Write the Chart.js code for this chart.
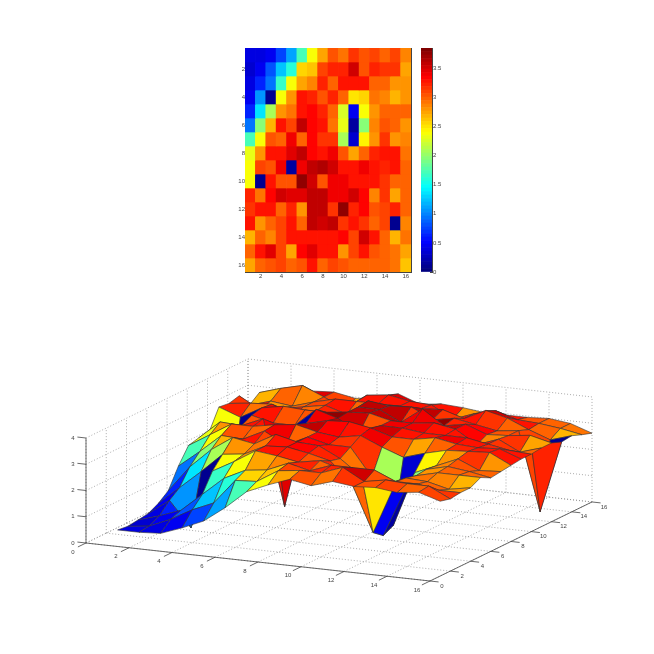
<!DOCTYPE html>
<html>
<head>
<meta charset="utf-8">
<style>
  html, body { margin: 0; padding: 0; background: #fff; }
  canvas { position: absolute; left: 0; filter: blur(0.5px); }
</style>
<script src="https://cdn.jsdelivr.net/npm/chart.js@4"></script>
</head>
<body>
<canvas id="heat" width="654" height="300" style="top:0"></canvas>
<canvas id="bar" width="654" height="300" style="top:0"></canvas>
<canvas id="surface" width="654" height="354" style="top:300px"></canvas>
<script>
const row1  = [0.40, 0.40, 0.45, 0.75, 1.10, 1.70, 2.40, 2.75, 3.05, 2.90, 3.15, 3.05, 3.10, 3.00, 3.10, 2.85];
const row2  = [0.35, 0.45, 0.80, 1.25, 1.60, 2.55, 2.60, 3.10, 3.20, 3.20, 3.50, 3.05, 3.20, 3.15, 3.15, 2.75];
const row3  = [0.40, 0.65, 0.95, 1.65, 2.35, 2.75, 2.85, 3.20, 3.00, 3.30, 3.30, 3.30, 2.95, 2.95, 2.80, 2.80];
const row4  = [0.45, 1.05, 0.10, 2.35, 2.80, 3.30, 3.20, 3.05, 3.20, 2.95, 2.52, 2.55, 2.90, 2.85, 2.65, 2.80];
const row5  = [0.65, 1.35, 2.05, 2.80, 2.90, 3.30, 3.35, 3.20, 3.00, 2.25, 0.45, 2.35, 2.80, 3.00, 3.00, 3.00];
const row6  = [0.95, 1.95, 2.70, 3.25, 3.10, 3.55, 3.35, 3.30, 2.90, 2.30, 0.15, 1.95, 2.85, 3.05, 2.95, 2.80];
const row7  = [1.70, 2.35, 3.05, 3.00, 3.40, 2.95, 3.35, 3.15, 3.15, 2.10, 0.35, 2.45, 2.80, 3.15, 2.80, 2.85];
const row8  = [2.30, 2.80, 3.30, 3.30, 3.45, 3.55, 3.35, 3.25, 3.40, 3.05, 2.75, 3.00, 3.20, 3.25, 3.30, 2.90];
const row9  = [2.40, 3.10, 3.05, 3.40, 0.15, 3.40, 3.60, 3.65, 3.50, 3.25, 3.25, 3.40, 3.25, 3.20, 3.25, 2.95];
const row10 = [2.40, 0.10, 3.25, 3.05, 3.05, 3.75, 3.50, 3.05, 3.40, 3.40, 3.30, 3.30, 3.30, 3.15, 3.00, 2.95];
const row11 = [3.20, 2.90, 3.35, 3.50, 3.45, 3.45, 3.55, 3.60, 3.40, 3.40, 3.50, 3.35, 2.85, 3.15, 2.75, 3.00];
const row12 = [3.15, 3.25, 3.30, 2.95, 3.20, 2.80, 3.55, 3.55, 3.15, 3.75, 3.20, 3.35, 3.05, 3.10, 3.20, 3.00];
const row13 = [3.25, 2.80, 2.95, 3.10, 3.25, 3.00, 3.60, 3.50, 3.55, 3.15, 3.30, 3.15, 3.00, 3.10, 0.10, 2.85];
const row14 = [2.70, 2.95, 2.85, 3.10, 3.30, 3.30, 3.30, 3.30, 3.30, 3.35, 3.10, 3.50, 3.30, 2.95, 2.65, 2.90];
const row15 = [3.00, 3.25, 3.45, 3.10, 2.75, 3.35, 3.45, 3.30, 3.25, 2.80, 3.10, 3.30, 3.05, 3.00, 2.90, 2.75];
const row16 = [2.75, 2.95, 3.05, 3.10, 2.95, 3.05, 3.30, 3.00, 3.10, 3.05, 2.95, 2.95, 2.95, 3.00, 2.90, 2.62];
const rows = [row1, row2, row3, row4, row5, row6, row7, row8, row9, row10, row11, row12, row13, row14, row15, row16];

const categories = ['1','2','3','4','5','6','7','8','9','10','11','12','13','14','15','16'];
const heatTicks = [2, 4, 6, 8, 10, 12, 14, 16];
const barTicks = [0, 0.5, 1, 1.5, 2, 2.5, 3, 3.5];
const xTicks = [0, 2, 4, 6, 8, 10, 12, 14, 16];
const yTicks = [0, 2, 4, 6, 8, 10, 12, 14, 16];
const zTicks = [0, 1, 2, 3, 4];
const cMax = 3.85;

const labelFont = { family: 'Liberation Sans', size: 6 };
const inkColor = '#444';

function clamp01(v) { return Math.max(0, Math.min(1, v)); }

// matlab jet, 64 levels
function jet(v) {
    const t = Math.min(63, Math.floor(clamp01(v / cMax) * 64)) / 63;
    const r = clamp01(Math.min(4 * t - 1.5, -4 * t + 4.5));
    const g = clamp01(Math.min(4 * t - 0.5, -4 * t + 3.5));
    const b = clamp01(Math.min(4 * t + 0.5, -4 * t + 2.5));
    return `rgb(${Math.round(r * 255)},${Math.round(g * 255)},${Math.round(b * 255)})`;
}

function keepTicks(list) {
    return scale => { scale.ticks = list.map(v => ({ value: v })); };
}
function keepEvenCategories(scale) {
    scale.ticks = scale.ticks.filter(t => t.value % 2 === 1);
}
function fixWidth(w) { return scale => { scale.width = w; }; }
function fixHeight(h) { return scale => { scale.height = h; }; }

Chart.defaults.animation = false;
Chart.defaults.responsive = false;
Chart.defaults.plugins.legend.display = false;
Chart.defaults.plugins.tooltip.enabled = false;

// top panel: the axis strips are 15 wide, the rest of the margin is padding
new Chart(document.getElementById('heat'), {
    type: 'bar',
    data: {
        labels: categories,
        datasets: rows.map((row, r) => ({
            data: row.map(() => [r + 0.5, r + 1.5]),
            backgroundColor: row.map(jet),
            barPercentage: 1,
            categoryPercentage: 1,
            grouped: false
        }))
    },
    options: {
        layout: { padding: { left: 230, right: 243, top: 48, bottom: 13 } },
        scales: {
            x: {
                position: 'bottom',
                offset: true,
                grid: { offset: false, drawOnChartArea: false, tickLength: -2, tickColor: inkColor },
                border: { color: inkColor },
                ticks: { autoSkip: false, maxRotation: 0, font: labelFont, color: inkColor, padding: 3 },
                afterBuildTicks: keepEvenCategories,
                afterFit: fixHeight(15)
            },
            xTop: {
                type: 'category',
                axis: 'x',
                position: 'top',
                offset: true,
                grid: { offset: false, drawOnChartArea: false, tickLength: -2, tickColor: inkColor },
                border: { color: inkColor },
                ticks: { autoSkip: false, display: false },
                afterBuildTicks: keepEvenCategories,
                afterFit: fixHeight(0)
            },
            y: {
                type: 'linear',
                reverse: true,
                min: 0.5,
                max: 16.5,
                grid: { drawOnChartArea: false, tickLength: -2, tickColor: inkColor },
                border: { color: inkColor },
                ticks: { font: labelFont, color: inkColor, padding: 2, callback: v => String(v) },
                afterBuildTicks: keepTicks(heatTicks),
                afterFit: fixWidth(15)
            },
            yRight: {
                type: 'linear',
                axis: 'y',
                position: 'right',
                reverse: true,
                min: 0.5,
                max: 16.5,
                grid: { drawOnChartArea: false, tickLength: -2, tickColor: inkColor },
                border: { color: inkColor },
                ticks: { display: false },
                afterBuildTicks: keepTicks(heatTicks),
                afterFit: fixWidth(0)
            }
        }
    }
});

// colour bar
const levels = [];
for (let i = 0; i < 64; i++) levels.push(i * cMax / 64);

new Chart(document.getElementById('bar'), {
    type: 'bar',
    data: {
        labels: ['jet'],
        datasets: levels.map(v => ({
            data: [[v, v + cMax / 64]],
            backgroundColor: jet(v + cMax / 128),
            barPercentage: 1,
            categoryPercentage: 1,
            grouped: false
        }))
    },
    options: {
        layout: { padding: { left: 421, right: 202, top: 48, bottom: 28 } },
        scales: {
            x: { display: false },
            y: {
                position: 'right',
                min: 0,
                max: cMax,
                grid: { drawOnChartArea: false, tickLength: -2, tickColor: inkColor },
                border: { color: inkColor },
                ticks: { font: labelFont, color: inkColor, padding: 3, callback: v => String(v) },
                afterBuildTicks: keepTicks(barTicks),
                afterFit: fixWidth(20)
            }
        }
    }
});

// bottom panel: orthographic view, x/y/z data units to the flat plane of the chart
const viewOrigin = { u: 86, v: 543 };
const viewX = { u: 21.5, v: 2.375 };
const viewY = { u: 10.125, v: -4.94 };
const viewZ = { u: 0, v: -26.25 };

function project(x, y, z) {
    return {
        x: viewOrigin.u + x * viewX.u + y * viewY.u + z * viewZ.u,
        y: viewOrigin.v + x * viewX.v + y * viewY.v + z * viewZ.v
    };
}

function lineSet(a, b, color, width, dash) {
    return {
        data: [project(a[0], a[1], a[2]), project(b[0], b[1], b[2])],
        borderColor: color,
        borderWidth: width,
        borderDash: dash || [],
        fill: false,
        pointRadius: 0
    };
}

const gridColor = '#888';
const gridDash = [1, 2];
const sets = []; // far things first, reversed at the end

xTicks.forEach(x => {
    sets.push(lineSet([x, 0, 0], [x, 16, 0], gridColor, 0.7, gridDash));
    sets.push(lineSet([x, 16, 0], [x, 16, 4], gridColor, 0.7, gridDash));
});
yTicks.forEach(y => {
    sets.push(lineSet([0, y, 0], [16, y, 0], gridColor, 0.7, gridDash));
    sets.push(lineSet([0, y, 0], [0, y, 4], gridColor, 0.7, gridDash));
});
zTicks.forEach(z => {
    sets.push(lineSet([0, 0, z], [0, 16, z], gridColor, 0.7, gridDash));
    sets.push(lineSet([0, 16, z], [16, 16, z], gridColor, 0.7, gridDash));
});

sets.push(lineSet([0, 0, 0], [16, 0, 0], inkColor, 0.8));
sets.push(lineSet([16, 0, 0], [16, 16, 0], inkColor, 0.8));
sets.push(lineSet([0, 0, 0], [0, 0, 4], inkColor, 0.8));
xTicks.forEach(x => sets.push(lineSet([x, 0, 0], [x, -0.8, 0], inkColor, 0.8)));
yTicks.forEach(y => sets.push(lineSet([16, y, 0], [16.4, y, 0], inkColor, 0.8)));
zTicks.forEach(z => sets.push(lineSet([0, 0, z], [-0.4, 0, z], inkColor, 0.8)));

// faces, back row to front, each coloured from its first corner like surf does
for (let r = 14; r >= 0; r--) {
    for (let c = 0; c < 15; c++) {
        const x = c + 1, y = r + 1;
        sets.push({
            data: [
                project(x, y, rows[r][c]),
                project(x + 1, y, rows[r][c + 1]),
                project(x + 1, y + 1, rows[r + 1][c + 1]),
                project(x, y + 1, rows[r + 1][c]),
                project(x, y, rows[r][c])
            ],
            backgroundColor: jet(rows[r][c]),
            borderColor: '#333',
            borderWidth: 0.6,
            fill: 'shape',
            pointRadius: 0
        });
    }
}
sets.reverse();

const surfaceLabels = {
    id: 'surfaceLabels',
    afterDraw(chart) {
        const { ctx, scales } = chart;
        const put = (text, p, dx, dy) => {
            ctx.fillText(text, scales.x.getPixelForValue(p.x) + dx, scales.y.getPixelForValue(p.y) + dy);
        };
        ctx.save();
        ctx.font = '6px "Liberation Sans"';
        ctx.fillStyle = inkColor;
        ctx.textAlign = 'center';
        ctx.textBaseline = 'middle';
        xTicks.forEach(x => put(String(x), project(x, 0, 0), -13, 9));
        yTicks.forEach(y => put(String(y), project(16, y, 0), 12, 5));
        zTicks.forEach(z => put(String(z), project(0, 0, z), -13, 0));
        ctx.restore();
    }
};

new Chart(document.getElementById('surface'), {
    type: 'line',
    data: { datasets: sets },
    options: {
        layout: { padding: 0 },
        scales: {
            x: { type: 'linear', display: false, min: 0, max: 654 },
            y: { type: 'linear', display: false, reverse: true, min: 300, max: 654 }
        }
    },
    plugins: [surfaceLabels]
});
</script>
</body>
</html>
